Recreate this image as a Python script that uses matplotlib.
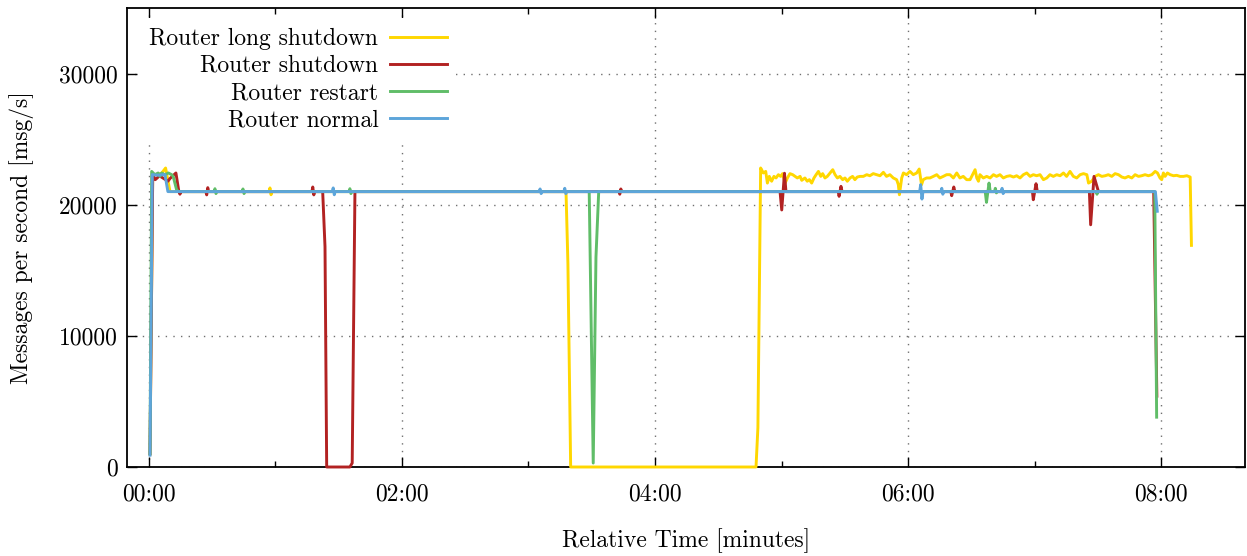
import matplotlib
matplotlib.use('Agg')
import matplotlib.pyplot as plt
from matplotlib.ticker import FixedLocator, MultipleLocator

plt.rcParams['font.family'] = ['cmr10', 'DejaVu Serif']
plt.rcParams['axes.formatter.use_mathtext'] = True
plt.rcParams['mathtext.fontset'] = 'cm'

# ---------------- data (time in seconds, messages per second) ----------------
labels = ["Router long shutdown", "Router shutdown", "Router restart", "Router normal"]
colors = ["#ffd700", "#b22222", "#60bd68", "#5da5da"]

long_t = [0.5, 1.8, 4.0, 6.0, 7.9, 10.0, 57.0, 57.4, 57.9, 58.4, 197.8, 198.7, 200.0,
          287.9, 288.8, 290.1, 291.4, 292.5, 293.3, 294.2, 295.3, 296.4, 297.4, 298.5,
          299.6, 300.5, 301.7, 302.8, 304.0, 305.3, 306.4, 307.5, 308.8, 309.6, 311.1,
          312.2, 313.2, 314.3, 315.4, 316.4, 317.5, 318.6, 319.5, 320.6, 321.7, 323.0,
          324.3, 325.4, 326.5, 327.7, 329.0, 330.1, 331.2, 332.5, 333.7, 334.8, 335.9,
          337.2, 338.8, 340.4, 341.9, 343.5, 345.1, 346.7, 348.3, 349.8, 351.4, 353.0,
          354.6, 355.4, 355.9, 357.0, 357.8, 359.3, 360.9, 362.5, 364.1, 365.3, 366.4,
          367.2, 368.8, 370.4, 372.0, 373.6, 375.1, 376.7, 378.3, 379.9, 381.5, 383.1,
          384.6, 386.2, 387.8, 389.4, 391.0, 391.8, 392.6, 393.4, 394.1, 395.7, 397.3,
          398.9, 400.5, 402.0, 403.6, 405.2, 406.8, 408.4, 410.0, 411.5, 413.1, 414.7,
          416.3, 417.9, 419.4, 421.0, 422.6, 424.2, 425.8, 427.3, 428.9, 430.5, 432.1,
          433.7, 435.2, 436.8, 438.4, 440.0, 441.6, 443.2, 444.8, 445.6, 447.1, 448.7,
          450.3, 451.9, 453.5, 455.0, 456.6, 458.2, 459.8, 461.4, 462.9, 464.5, 466.1,
          467.7, 469.3, 470.8, 472.4, 474.0, 475.6, 477.2, 478.3, 479.5, 480.3, 481.1,
          481.9, 483.0, 484.3, 485.9, 487.4, 489.0, 490.6, 492.2, 493.8, 494.4]
long_v = [1000, 22300, 22300, 22400, 22800, 21000, 21000, 21280, 20760, 21000, 21000, 15500, 0,
          0, 3000, 22800, 22420, 22540, 21650, 22160, 21790, 22160, 22040, 22290,
          22160, 22370, 21650, 22040, 22370, 22290, 22160, 22040, 22160, 21860, 22040,
          21790, 21910, 21650, 22040, 22290, 22540, 22160, 22370, 22040, 22160, 22420,
          22670, 22290, 22040, 22160, 21910, 22040, 21790, 22040, 22160, 21910, 22110,
          22160, 22160, 22290, 22210, 22370, 22290, 22210, 22470, 22160, 22290, 22040,
          21910, 21530, 20760, 22040, 22420, 22290, 22540, 22290, 22420, 22720, 21530,
          21910, 22040, 22040, 22160, 22290, 22040, 22160, 22290, 22290, 22040, 22420,
          22040, 22160, 21910, 21910, 22420, 22670, 22040, 21790, 22290, 22040, 22160,
          22040, 22290, 22160, 22290, 22040, 22160, 22210, 22110, 22210, 22040, 22290,
          22420, 22160, 22290, 22210, 22290, 21910, 22040, 22290, 22160, 22290, 22210,
          22420, 22160, 22540, 22160, 22040, 22290, 22370, 22290, 21650, 21790, 22160,
          22290, 22160, 22210, 22290, 22160, 22370, 22290, 22110, 22040, 22160, 22040,
          22290, 22160, 22210, 22290, 22210, 22290, 22540, 22420, 22040, 21910, 22420,
          22160, 22420, 22290, 22210, 22240, 22160, 22160, 22210, 22110, 16900]

shut_t = [0.5, 1.8, 3.0, 5.0, 7.0, 9.0, 10.0, 12.8, 14.2, 14.7, 15.3,
          27.0, 27.4, 27.9, 28.3, 77.3, 77.7, 78.2, 78.6,
          82.4, 83.5, 84.3, 95.3, 96.4, 97.7,
          222.9, 223.3, 223.8, 224.2, 299.3, 300.1, 301.4, 302.1,
          326.9, 327.3, 328.2, 328.7, 380.3, 380.7, 381.7, 382.2,
          419.0, 419.4, 420.7, 421.3, 446.0, 446.6, 448.2, 450.3,
          476.5, 478.0]
shut_v = [1000, 22300, 21910, 22200, 22000, 21790, 22000, 22420, 21000, 20800, 21000,
          21000, 20750, 21300, 21000, 21000, 21350, 20750, 21000,
          21000, 16800, 0, 0, 300, 21000,
          21000, 20800, 21200, 21000, 21000, 19600, 22400, 21000,
          21000, 20640, 21400, 21000, 21000, 20690, 21350, 21000,
          21000, 20380, 21600, 21000, 21000, 18470, 22160, 21000,
          21000, 5400]

rest_t = [0.5, 1.3, 2.8, 4.4, 5.2, 6.0, 7.6, 9.2, 10.8, 11.5, 13.1, 14.0,
          30.9, 31.3, 31.8, 32.2, 44.2, 44.6, 45.1, 45.5, 94.9, 95.3, 95.8, 96.2,
          208.8, 210.7, 212.0, 213.3,
          396.6, 397.2, 398.4, 399.0, 401.0, 401.4, 401.9, 402.3,
          449.2, 449.6, 450.1, 477.0, 477.9]
rest_v = [1000, 22540, 22290, 22420, 22160, 22420, 22290, 22420, 22290, 22160, 21150, 21000,
          21000, 21220, 20850, 21000, 21000, 21200, 20850, 21000, 21000, 21220, 20850, 21000,
          21000, 300, 16000, 21000,
          21000, 20180, 21650, 21000, 21000, 21250, 20900, 21000,
          21000, 20800, 21000, 21000, 3800]

norm_t = [0.5, 1.6, 4.0, 7.6, 9.0,
          86.9, 87.4, 87.9, 88.3, 185.0, 185.5, 186.0, 186.5, 196.8, 197.2, 197.7, 198.1,
          365.5, 366.0, 366.6, 367.1, 375.6, 376.0, 376.5, 377.0,
          404.1, 404.6, 405.1, 405.6, 477.3, 478.2]
norm_v = [900, 22300, 22250, 22300, 21000,
          21000, 21280, 20760, 21000, 21000, 21200, 20850, 21000, 21000, 21250, 20850, 21000,
          21000, 21530, 20430, 21000, 21000, 21250, 20800, 21000,
          21000, 21250, 20850, 21000, 21000, 19500]

x_ticks = [0, 120, 240, 360, 480]
x_ticklabels = ["00:00", "02:00", "04:00", "06:00", "08:00"]
y_ticks = [0, 10000, 20000, 30000]

# ---------------- figure ----------------
W, H = 1247, 556
fig = plt.figure(figsize=(W / 100, H / 100), dpi=100)
ax = fig.add_axes([127 / W, 1 - 467 / H, (1245 - 127) / W, (467 - 8) / H])

series = [(long_t, long_v), (shut_t, shut_v), (rest_t, rest_v), (norm_t, norm_v)]
for (t, v), lab, c in zip(series, labels, colors):
    ax.plot(t, v, color=c, lw=2.1, label=lab, clip_on=False, zorder=3)

ax.set_xlim(-10.4, 519.8)
ax.set_ylim(0, 35000)
ax.xaxis.set_major_locator(FixedLocator(x_ticks))
ax.set_xticklabels(x_ticklabels)
ax.xaxis.set_minor_locator(MultipleLocator(60))
ax.yaxis.set_major_locator(FixedLocator(y_ticks))
ax.set_yticklabels([str(v) for v in y_ticks])

fs = 17
ax.tick_params(which='major', direction='in', top=True, right=True, length=7,
               width=1.0, labelsize=fs, color='black')
ax.tick_params(which='minor', direction='in', top=True, right=True, length=4, width=1.0)
ax.tick_params(axis='x', pad=12)
ax.tick_params(axis='y', pad=6.5)
for s in ax.spines.values():
    s.set_linewidth(1.3)
    s.set_zorder(2.5)

ax.grid(True, which='major', linestyle=(0, (1, 4.5)), color='#707070', linewidth=1.0)
ax.set_axisbelow(True)

ax.set_xlabel("Relative Time [minutes]", fontsize=fs, labelpad=16)
ax.set_ylabel("Messages per second [msg/s]", fontsize=fs, labelpad=18)

leg = ax.legend(loc='upper left', bbox_to_anchor=(0.0116, 0.9775), borderaxespad=0,
                markerfirst=False, fontsize=fs, handlelength=2.4, handletextpad=0.5,
                labelspacing=0.21, frameon=True, fancybox=False, borderpad=0.4)
leg.get_frame().set_facecolor('white')
leg.get_frame().set_edgecolor('none')
leg.get_frame().set_alpha(1)
leg.set_zorder(5)
try:
    vp = leg._legend_box._children[-1]._children[0]
    vp.align = "right"
except Exception:
    pass

fig.savefig("out.png", dpi=100)
